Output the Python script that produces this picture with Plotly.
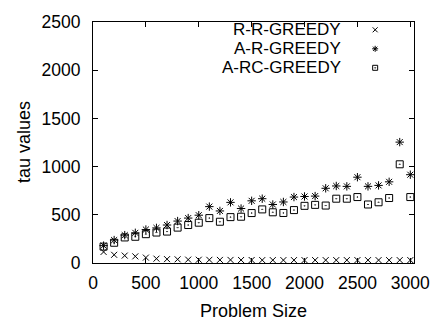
import plotly.graph_objects as go

problem_size = [100, 200, 300, 400, 500, 600, 700, 800, 900, 1000,
                1100, 1200, 1300, 1400, 1500, 1600, 1700, 1800, 1900, 2000,
                2100, 2200, 2300, 2400, 2500, 2600, 2700, 2800, 2900, 3000]

rr_greedy = [115, 85, 77, 69, 56, 45, 40, 38, 35, 34,
             33, 32, 32, 31, 31, 30, 30, 30, 30, 30,
             30, 30, 30, 30, 30, 30, 30, 30, 30, 30]

ar_greedy = [180, 238, 289, 313, 347, 364, 394, 435, 466, 496,
             585, 540, 629, 565, 645, 667, 607, 633, 684, 690,
             694, 775, 799, 795, 890, 795, 805, 842, 1254, 916]

arc_greedy = [170, 210, 265, 272, 299, 316, 326, 367, 394, 418,
              466, 428, 476, 480, 518, 556, 526, 519, 549, 593,
              603, 596, 667, 667, 684, 607, 630, 674, 1024, 684]

series_names = ["R-R-GREEDY", "A-R-GREEDY", "A-RC-GREEDY"]
x_ticks = [0, 500, 1000, 1500, 2000, 2500, 3000]
y_ticks = [0, 500, 1000, 1500, 2000, 2500]

FONT = "Liberation Sans, Arial, sans-serif"
FS_TICK = 17.5
FS_TEXT = 18
FS_LEGEND = 17

symbols = ["x-thin-open", "asterisk-open", "square-open-dot"]
sizes = [6, 7, 7]
series = [rr_greedy, ar_greedy, arc_greedy]

fig = go.Figure()
for name, vals, sym, sz in zip(series_names, series, symbols, sizes):
    fig.add_trace(go.Scatter(
        x=problem_size, y=vals, mode="markers", name=name, showlegend=False,
        marker=dict(symbol=sym, size=sz, color="black",
                    line=dict(color="black", width=1)),
    ))

# manual legend (text right-aligned, symbol on the right, gnuplot style)
leg_text_x = 0.780
leg_sym_x = 0.879
leg_rows = [0.9676, 0.8888, 0.8099]
for name, sym, ly in zip(series_names, symbols, leg_rows):
    fig.add_annotation(x=leg_text_x, y=ly, xref="paper", yref="paper",
                       text=name, showarrow=False, xanchor="right",
                       yanchor="middle",
                       font=dict(family=FONT, size=FS_LEGEND, color="black"))
    fig.add_trace(go.Scatter(
        x=[leg_sym_x], y=[ly], xaxis="x2", yaxis="y2", mode="markers",
        showlegend=False, hoverinfo="skip",
        marker=dict(symbol=sym, size=5, color="black",
                    line=dict(color="black", width=1)),
    ))

fig.add_annotation(x=0.5, y=-0.20, xref="paper", yref="paper",
                   text="Problem Size", showarrow=False, xanchor="center",
                   yanchor="middle",
                   font=dict(family=FONT, size=FS_TEXT, color="black"))
fig.add_annotation(x=-0.2165, y=0.5, xref="paper", yref="paper",
                   text="tau values", showarrow=False, textangle=-90,
                   xanchor="center", yanchor="middle",
                   font=dict(family=FONT, size=FS_TEXT, color="black"))

axis_common = dict(showline=True, linecolor="black", linewidth=1, mirror="ticks",
                   ticks="inside", ticklen=5, tickcolor="black", tickwidth=1,
                   showgrid=False, zeroline=False,
                   tickfont=dict(family=FONT, size=FS_TICK, color="black"))

fig.update_layout(
    width=442, height=322, autosize=False,
    margin=dict(l=93, r=19, t=16, b=59, pad=0),
    paper_bgcolor="white", plot_bgcolor="white",
    xaxis=dict(range=[0, 3035], tickvals=x_ticks, ticklabelstandoff=4, **axis_common),
    yaxis=dict(range=[0, 2500], tickvals=y_ticks, ticklabelstandoff=8, **axis_common),
    xaxis2=dict(range=[0, 1], overlaying="x", visible=False, anchor="y2"),
    yaxis2=dict(range=[0, 1], overlaying="y", visible=False, anchor="x2"),
    showlegend=False,
)

fig.write_html("out.html")
